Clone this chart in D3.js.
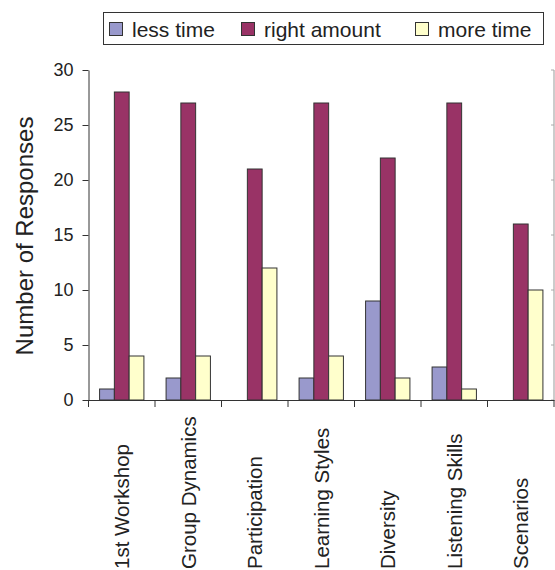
<!DOCTYPE html>
<html><head><meta charset="utf-8">
<script src="https://cdn.jsdelivr.net/npm/d3@7"></script>
<style>html,body{margin:0;padding:0;background:#fff;}svg{display:block;font-family:"Liberation Sans",Arial,Helvetica,sans-serif;}</style>
</head><body><svg id="c" width="555" height="570"></svg>
<script>
const categories = ["1st Workshop","Group Dynamics","Participation","Learning Styles","Diversity","Listening Skills","Scenarios"];
const seriesNames = ["less time","right amount","more time"];
const lessTime = [1,2,0,2,9,3,0];
const rightAmount = [28,27,21,27,22,27,16];
const moreTime = [4,4,12,4,2,1,10];
const yTicks = [0,5,10,15,20,25,30];
const colors = ["#9999cc","#993366","#ffffcc"];
const yTitle = "Number of Responses";

(function(){
const series = [lessTime, rightAmount, moreTime];
const svg = d3.select("#c");
const pL = 88.5, pR = 554, pT = 70, pB = 400;
const x = d3.scaleBand().domain(categories).range([pL, pR]).paddingInner(0).paddingOuter(0);
const xs = d3.scaleBand().domain(seriesNames).range([0, x.bandwidth()]).paddingInner(0).paddingOuter(0.75);
const y = d3.scaleLinear().domain([0,30]).range([pB, pT]);

// right frame line with inner ticks
svg.append("line").attr("x1", pR).attr("x2", pR).attr("y1", pT).attr("y2", pB)
  .attr("stroke","#999").attr("stroke-width",1);
yTicks.forEach(t => svg.append("line").attr("x1", pR-3).attr("x2", pR).attr("y1", y(t)).attr("y2", y(t)).attr("stroke","#aaa"));

// bars
const g = svg.append("g");
categories.forEach((c, i) => {
  seriesNames.forEach((s, j) => {
    const v = series[j][i];
    if (v <= 0) return;
    g.append("rect")
      .attr("x", x(c) + xs(s))
      .attr("y", y(v))
      .attr("width", xs.bandwidth())
      .attr("height", y(0) - y(v))
      .attr("fill", colors[j])
      .attr("stroke", "#333")
      .attr("stroke-width", 1);
  });
});

// y axis
const ya = svg.append("g").attr("transform", `translate(${pL},0)`)
  .call(d3.axisLeft(y).tickValues(yTicks).tickSize(6).tickPadding(9).tickSizeOuter(0));
ya.select(".domain").attr("stroke","#333");
ya.selectAll(".tick line").attr("stroke","#333");
ya.selectAll(".tick text").attr("font-size", 18).attr("fill","#222").attr("font-family","Liberation Sans, Arial, sans-serif");

// x axis
const xa = svg.append("g").attr("transform", `translate(0,${pB})`)
  .call(d3.axisBottom(x).tickSize(0).tickFormat(""));
xa.select(".domain").attr("stroke","#333");
xa.selectAll(".tick").remove();
const bounds = categories.map(c => x(c)).concat([pR]);
bounds.forEach(b => xa.append("line").attr("x1", b).attr("x2", b).attr("y1", 0).attr("y2", 7).attr("stroke","#333"));

// x labels (rotated)
categories.forEach(c => {
  const cx = x(c) + x.bandwidth()/2;
  svg.append("text")
    .attr("transform", `translate(${cx + 7.5},569) rotate(-90)`)
    .attr("text-anchor","start")
    .attr("font-size", 20.5)
    .attr("fill","#222")
    .text(c);
});

// y title
svg.append("text")
  .attr("transform", `translate(33,${(pT+pB)/2 + 1}) rotate(-90)`)
  .attr("text-anchor","middle")
  .attr("font-size", 24)
  .attr("fill","#222")
  .text(yTitle);

// legend
const lg = svg.append("g");
lg.append("rect").attr("x",103.5).attr("y",12.5).attr("width",440).attr("height",32)
  .attr("fill","#fff").attr("stroke","#333").attr("stroke-width",1);
const legX = [109, 241, 415];
seriesNames.forEach((s, j) => {
  lg.append("rect").attr("x", legX[j]+0.5).attr("y", 22.5).attr("width", 13).attr("height", 13)
    .attr("fill", colors[j]).attr("stroke","#333");
  lg.append("text").attr("x", legX[j] + 23).attr("y", 36.5).attr("font-size", 21).attr("fill","#222").text(s);
});
})();
</script></body></html>
